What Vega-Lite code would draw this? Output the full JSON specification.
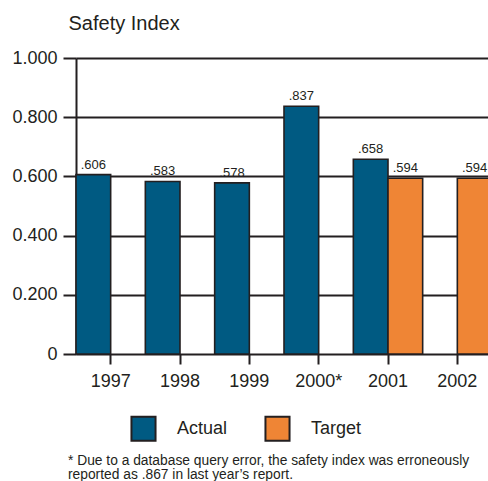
{
  "$schema": "https://vega.github.io/schema/vega-lite/v6.json",
  "autosize": {"type": "none"},
  "width": 416,
  "height": 296,
  "padding": {"left": 76, "top": 58, "right": 0, "bottom": 127},
  "data": {
    "values": [
      {"year": "1997", "series": "Actual", "value": 0.606},
      {"year": "1998", "series": "Actual", "value": 0.583},
      {"year": "1999", "series": "Actual", "value": 0.578},
      {"year": "2000*", "series": "Actual", "value": 0.837},
      {"year": "2001", "series": "Actual", "value": 0.658},
      {"year": "2001", "series": "Target", "value": 0.594},
      {"year": "2002", "series": "Target", "value": 0.594}
    ]
  },
  "title": {
    "text": ["* Due to a database query error, the safety index was erroneously", "reported as .867 in last year’s report."],
    "orient": "bottom",
    "anchor": "start",
    "frame": "group",
    "dx": -8,
    "offset": 9,
    "fontSize": 13.8,
    "fontWeight": "normal",
    "font": "Liberation Sans",
    "color": "#231f20",
    "lineHeight": 13.5
  },
  "transform": [
    {"calculate": "replace(format(datum.value, '.3f'), '0.', '.')", "as": "label"}
  ],
  "encoding": {
    "x": {
      "field": "year",
      "type": "nominal",
      "sort": ["1997", "1998", "1999", "2000*", "2001", "2002"],
      "scale": {"paddingInner": 0, "paddingOuter": 0},
      "axis": {
        "title": null,
        "labelAngle": 0,
        "labelFontSize": 18,
        "labelPadding": 8,
        "tickSize": 10,
        "tickWidth": 2,
        "tickColor": "#231f20",
        "domain": false,
        "grid": false
      }
    },
    "xOffset": {"field": "series", "type": "nominal", "scale": {"domain": ["Actual", "Target"], "paddingInner": 0, "paddingOuter": 0}},
    "y": {
      "field": "value",
      "type": "quantitative",
      "scale": {"domain": [0, 1], "nice": false},
      "axis": {
        "title": "Safety Index",
        "titleAngle": 0,
        "titleAlign": "left",
        "titleBaseline": "alphabetic",
        "titleX": -8,
        "titleY": -29,
        "titleFontSize": 20,
        "titleFontWeight": "normal",
        "values": [0, 0.2, 0.4, 0.6, 0.8, 1.0],
        "labelExpr": "datum.value == 0 ? '0' : format(datum.value, '.3f')",
        "labelFontSize": 18,
        "labelPadding": 6,
        "tickSize": 13,
        "tickWidth": 2,
        "tickColor": "#231f20",
        "domainColor": "#231f20",
        "domainWidth": 2,
        "grid": true,
        "gridColor": "#231f20",
        "gridWidth": 2,
        "gridOpacity": 1
      }
    }
  },
  "layer": [
    {
      "mark": {"type": "bar", "stroke": "#231f20", "strokeWidth": 1.6},
      "encoding": {
        "color": {
          "field": "series",
          "type": "nominal",
          "scale": {"domain": ["Actual", "Target"], "range": ["#005a82", "#ef8535"]},
          "legend": {
            "title": null,
            "orient": "none",
            "legendX": 54,
            "legendY": 357,
            "direction": "horizontal",
            "symbolType": "square",
            "symbolSize": 580,
            "symbolStrokeColor": "#231f20",
            "symbolStrokeWidth": 2,
            "symbolOpacity": 1,
            "labelFontSize": 18,
            "labelOffset": 20,
            "columnPadding": 33
          }
        }
      }
    },
    {
      "mark": {"type": "text", "baseline": "bottom", "dy": -3, "fontSize": 13, "font": "Liberation Sans", "color": "#231f20"},
      "encoding": {"text": {"field": "label"}}
    }
  ],
  "config": {
    "view": {"stroke": null},
    "font": "Liberation Sans",
    "axis": {"labelColor": "#231f20", "titleColor": "#231f20", "labelFont": "Liberation Sans", "titleFont": "Liberation Sans"},
    "legend": {"labelColor": "#231f20", "labelFont": "Liberation Sans"}
  }
}
